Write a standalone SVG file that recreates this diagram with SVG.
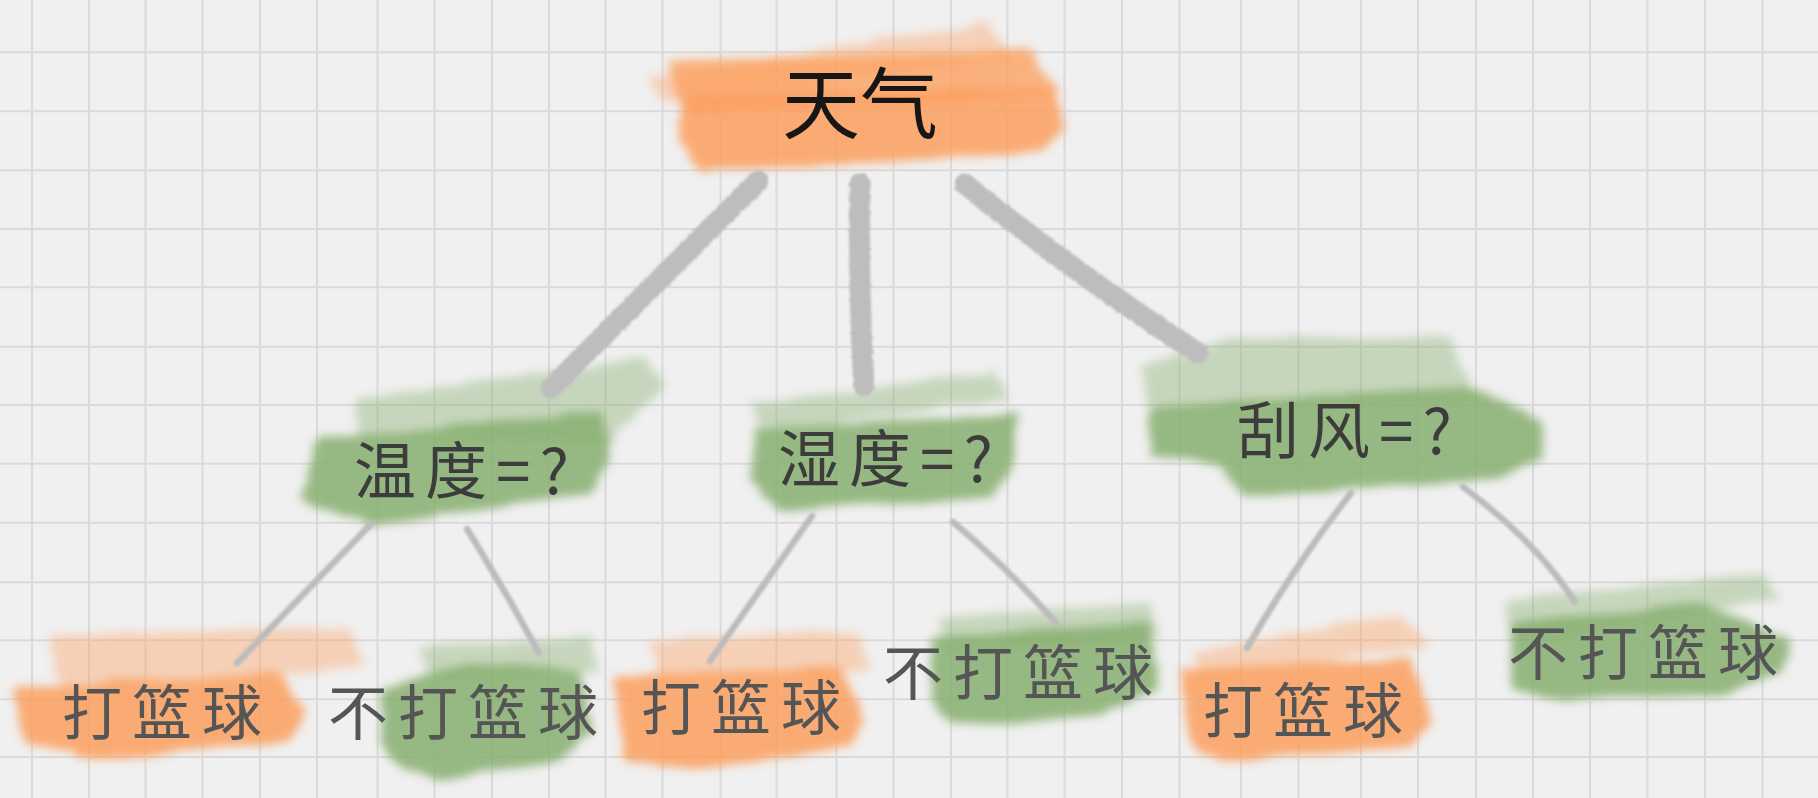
<svg xmlns="http://www.w3.org/2000/svg" width="1818" height="798" viewBox="0 0 1818 798">
<defs>
<style>
.grid{stroke:#dadada;stroke-width:2;fill:none}
.or{fill:#fc9f5e}
.gr{fill:#86ae6e}
.lt{opacity:.4}
.md{opacity:.78}
.dn{opacity:.85}
.thick{stroke:#bdbdbd;stroke-width:21;stroke-linecap:round;fill:none}
.thin{stroke:#bcbcbc;stroke-width:6.5;stroke-linecap:round;fill:none}
text{font-family:"Noto Sans CJK SC","Noto Sans CJK JP",sans-serif;font-weight:400;text-anchor:middle}
.t0{font-size:78px;fill:#161616}
.t1{font-size:62px;fill:#3c3c3c;letter-spacing:9px}
.t2{font-size:60px;fill:#555;letter-spacing:10px}
</style>
<filter id="brush" x="-15%" y="-30%" width="130%" height="160%">
<feTurbulence type="fractalNoise" baseFrequency="0.012 0.11" numOctaves="2" seed="3" result="n"/>
<feDisplacementMap in="SourceGraphic" in2="n" scale="10" xChannelSelector="R" yChannelSelector="G" result="d"/>
<feGaussianBlur in="d" stdDeviation="5"/>
</filter>
<filter id="chalk" x="-10%" y="-10%" width="120%" height="120%">
<feTurbulence type="fractalNoise" baseFrequency="0.25" numOctaves="2" seed="7" result="n"/>
<feDisplacementMap in="SourceGraphic" in2="n" scale="3.5" xChannelSelector="R" yChannelSelector="G" result="d"/>
<feGaussianBlur in="d" stdDeviation="0.9"/>
</filter>
<filter id="soft" x="-10%" y="-10%" width="120%" height="120%">
<feGaussianBlur stdDeviation="0.8"/>
</filter>
</defs>
<rect width="1818" height="798" fill="#f0f0f0"/>
<path class="grid" d="M32 0V798M89 0V798M145.5 0V798M202.5 0V798M260 0V798M317 0V798M377.5 0V798M434.5 0V798M492 0V798M549 0V798M605.5 0V798M662.5 0V798M720.5 0V798M776.5 0V798M836.5 0V798M893.5 0V798M951 0V798M1007.5 0V798M1064.5 0V798M1122 0V798M1179.5 0V798M1241 0V798M1298.5 0V798M1361 0V798M1418 0V798M1476 0V798M1533 0V798M1590 0V798M1647.5 0V798M1705 0V798M1762.5 0V798M0 52.3H1818M0 111.3H1818M0 170.3H1818M0 229H1818M0 287.3H1818M0 346.7H1818M0 405H1818M0 463.7H1818M0 522.7H1818M0 582.3H1818M0 640.3H1818M0 699.3H1818M0 757H1818"/>

<g id="brushes" filter="url(#brush)">
<g id="b-root">
<polygon class="or lt" points="650,78 985,22 1015,60 660,102"/>
<polygon class="or md" points="668,62 1030,50 1062,95 682,112"/>
<polygon class="or dn" points="685,96 1050,88 1066,125 1040,152 702,174 678,140"/>
</g>
<g id="b-n1">
<polygon class="gr lt" points="355,400 645,358 665,385 612,438 360,440"/>
<polygon class="gr dn" points="318,438 600,413 612,450 590,495 370,525 300,500"/>
</g>
<g id="b-n2">
<polygon class="gr lt" points="752,405 995,371 1010,400 760,432"/>
<polygon class="gr dn" points="756,428 1018,413 1012,470 990,498 780,510 750,480"/>
</g>
<g id="b-n3">
<polygon class="gr lt" points="1140,367 1230,337 1450,338 1475,397 1150,412"/>
<polygon class="gr dn" points="1148,408 1470,386 1540,420 1545,455 1495,480 1245,497 1220,465 1150,455"/>
</g>
<g id="b-l1">
<polygon class="or lt" points="50,635 350,628 365,668 60,690"/>
<polygon class="or dn" points="12,688 280,673 305,712 290,742 100,760 25,745"/>
</g>
<g id="b-l2">
<polygon class="gr lt" points="420,648 590,636 598,672 430,680"/>
<polygon class="gr dn" points="380,688 470,663 580,670 592,730 560,760 440,780 385,760"/>
</g>
<g id="b-l3">
<polygon class="or lt" points="650,640 860,632 870,672 660,680"/>
<polygon class="or dn" points="614,678 840,666 865,720 850,745 700,771 625,760"/>
</g>
<g id="b-l4">
<polygon class="gr lt" points="940,615 1150,603 1159,640 945,650"/>
<polygon class="gr dn" points="930,638 1150,623 1159,690 1100,715 950,725 932,700"/>
</g>
<g id="b-l5">
<polygon class="or lt" points="1195,650 1400,615 1430,645 1200,680"/>
<polygon class="or dn" points="1180,670 1410,658 1432,720 1410,748 1220,760 1190,745"/>
</g>
<g id="b-l6">
<polygon class="gr lt" points="1505,600 1760,573 1782,600 1510,640"/>
<polygon class="gr dn" points="1510,623 1700,603 1790,640 1785,670 1720,695 1560,700 1512,690"/>
</g>
</g>

<g id="connectors">
<g filter="url(#chalk)">
<path class="thick" d="M758 181L551 388"/>
<path class="thick" d="M860 184Q858 290 864 386"/>
<path class="thick" d="M965 184Q1070 270 1198 353"/>
</g>
<g filter="url(#soft)">
<path class="thin" d="M371 524L237 663"/>
<path class="thin" d="M467 529Q505 590 539 653"/>
<path class="thin" d="M812 516L710 661"/>
<path class="thin" d="M953 522Q1010 570 1057 624"/>
<path class="thin" d="M1351 493Q1295 565 1247 648"/>
<path class="thin" d="M1463 487Q1535 540 1575 602"/>
</g>
</g>

<g id="root"><text class="t0" x="860" y="133">天气</text></g>
<g id="n-temp"><text class="t1" x="466" y="494">温度=?</text></g>
<g id="n-hum"><text class="t1" x="890" y="482">湿度=?</text></g>
<g id="n-wind"><text class="t1" x="1349" y="454">刮风=?</text></g>
<g id="l1"><text class="t2" x="167" y="735">打篮球</text></g>
<g id="l2"><text class="t2" x="468" y="735">不打篮球</text></g>
<g id="l3"><text class="t2" x="746" y="730">打篮球</text></g>
<g id="l4"><text class="t2" x="1023" y="695">不打篮球</text></g>
<g id="l5"><text class="t2" x="1308" y="733">打篮球</text></g>
<g id="l6"><text class="t2" x="1648" y="675">不打篮球</text></g>
</svg>
